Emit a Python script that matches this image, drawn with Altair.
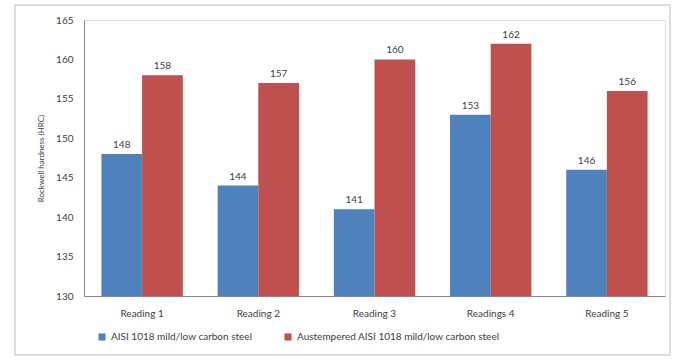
import altair as alt
import pandas as pd

categories = ["Reading 1", "Reading 2", "Reading 3", "Readings 4", "Reading 5"]
series_names = ["AISI 1018 mild/low carbon steel", "Austempered  AISI 1018 mild/low carbon steel"]
plain_values = [148, 144, 141, 153, 146]
austempered_values = [158, 157, 160, 162, 156]
y_ticks = [130, 135, 140, 145, 150, 155, 160, 165]

rows = []
for c, v in zip(categories, plain_values):
    rows.append({"reading": c, "series": series_names[0], "value": v})
for c, v in zip(categories, austempered_values):
    rows.append({"reading": c, "series": series_names[1], "value": v})
df = pd.DataFrame(rows)

FONT = "Lato"
W, H = 581, 276

x = alt.X("reading:N", sort=categories, title=None,
          scale=alt.Scale(paddingInner=0.3, paddingOuter=0.15),
          axis=alt.Axis(labelAngle=0, labelFontSize=10, labelColor="#404040", labelFont=FONT,
                        domainColor="#888888", ticks=False, labelPadding=12))
xo = alt.XOffset("series:N", sort=series_names, scale=alt.Scale(paddingInner=0, paddingOuter=0))
y = alt.Y("value:Q", title="Rockwell hardness (HRC)",
          scale=alt.Scale(domain=[130, 165], zero=False, nice=False),
          axis=alt.Axis(values=y_ticks, grid=False, labelFontSize=10, labelColor="#404040",
                        labelFont=FONT, labelOverlap=False, domainColor="#888888",
                        ticks=False, labelPadding=11, titleFont=FONT, titleFontSize=8,
                        titleFontWeight="normal", titleColor="#404040", titlePadding=10))
color = alt.Color("series:N", sort=series_names,
                  scale=alt.Scale(domain=series_names, range=["#4F81BD", "#C0504D"]),
                  legend=alt.Legend(title=None, orient="none", direction="horizontal",
                                    legendX=13, legendY=312, symbolType="square", symbolSize=50,
                                    symbolStrokeWidth=0, labelFont=FONT, labelFontSize=10,
                                    labelColor="#404040", columnPadding=30, labelLimit=400))

bars = alt.Chart(df).mark_bar(clip=True).encode(x=x, xOffset=xo, y=y, color=color)
labels = alt.Chart(df).mark_text(dy=-9, font=FONT, fontSize=10, color="#404040").encode(
    x=x, xOffset=xo, y=y, text="value:Q")

border = alt.Chart(pd.DataFrame({"a": [0]})).mark_rect(
    fill=None, stroke="#d0d0d0", strokeWidth=1.5, clip=False).encode(
    x=alt.value(-69), x2=alt.value(586), y=alt.value(-15), y2=alt.value(335))

chart = alt.layer(bars, labels, border).properties(
    width=W, height=H,
    autosize=alt.AutoSizeParams(type="none"),
    padding={"left": 84, "top": 20, "right": 10, "bottom": 64},
).configure_view(stroke=None).configure(background="white")

chart.save("out.html", embed_options={"renderer": "svg", "actions": False})
